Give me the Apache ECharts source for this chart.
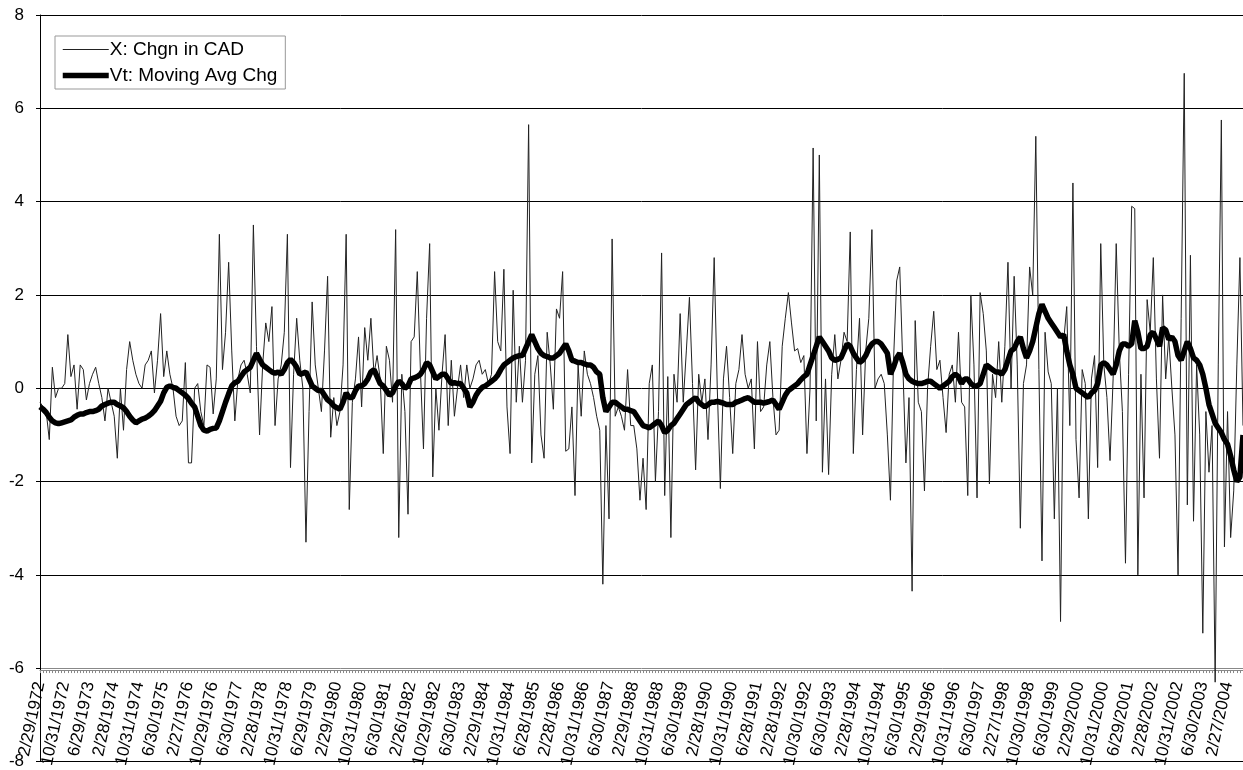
<!DOCTYPE html>
<html>
<head>
<meta charset="utf-8">
<title>CAD change vs moving average</title>
<script src="https://cdn.jsdelivr.net/npm/echarts@6/dist/echarts.min.js"></script>
<style>
    html, body { margin: 0; padding: 0; background: #fff; }
    #main { width: 1243px; height: 770px; }
</style>
</head>
<body>
<div id="main"></div>
<script>
// tick labels shown every 8 months on the x axis (month-end dates)
var tickLabels = [
    '2/29/1972', '10/31/1972', '6/29/1973', '2/28/1974', '10/31/1974', '6/30/1975', '2/27/1976',
    '10/29/1976', '6/30/1977', '2/28/1978', '10/31/1978', '6/29/1979', '2/29/1980', '10/31/1980',
    '6/30/1981', '2/26/1982', '10/29/1982', '6/30/1983', '2/29/1984', '10/31/1984', '6/28/1985',
    '2/28/1986', '10/31/1986', '6/30/1987', '2/29/1988', '10/31/1988', '6/30/1989', '2/28/1990',
    '10/31/1990', '6/28/1991', '2/28/1992', '10/30/1992', '6/30/1993', '2/28/1994', '10/31/1994',
    '6/30/1995', '2/29/1996', '10/31/1996', '6/30/1997', '2/27/1998', '10/30/1998', '6/30/1999',
    '2/29/2000', '10/31/2000', '6/29/2001', '2/28/2002', '10/31/2002', '6/30/2003', '2/27/2004'
];

// X: monthly change in CAD (one value per month, from 2/1972)
var chgCAD = [
    -0.3, -0.4, -0.5, -1.1, 0.45, -0.2, 0.0, 0.0, 0.1, 1.15,
    0.25, 0.5, -0.45, 0.5, 0.4, -0.25, 0.1, 0.3, 0.45, 0.1,
    -0.2, -0.7, 0.0, -0.3, -0.6, -1.5, 0.0, -0.9, 0.4, 1.0,
    0.6, 0.3, 0.1, 0.0, 0.5, 0.6, 0.8, -0.1, 0.6, 1.6,
    0.25, 0.8, 0.3, 0.0, -0.6, -0.8, -0.7, 0.55, -1.6, -1.6,
    0.0, 0.1, -0.5, -0.8, 0.5, 0.45, -0.55, 0.2, 3.3, 0.4,
    1.2, 2.7, 0.8, -0.7, 0.2, 0.5, 0.6, 0.3, -0.1, 3.5,
    0.9, -1.0, 0.5, 1.4, 1.0, 1.75, -0.8, 0.2, 0.5, 1.2,
    3.3, -1.7, 0.3, 1.5, 0.6, 0.0, -3.3, -0.5, 1.85, 0.5,
    0.0, -0.5, 0.8, 2.4, -1.05, -0.2, -0.8, -0.5, 0.5, 3.3,
    -2.6, -0.3, 0.2, 1.1, -0.4, 1.3, 0.6, 1.5, 0.3, 0.7,
    0.2, -1.4, 0.9, 0.6, -0.3, 3.4, -3.2, 0.3, -0.5, -2.7,
    1.0, 1.1, 2.5, 0.4, -1.3, 1.5, 3.1, -1.9, 0.0, -0.9,
    0.3, 1.15, -0.8, 0.6, -0.6, 0.0, 0.5, -0.2, 0.5, 0.0,
    0.2, 0.5, 0.6, 0.3, 0.4, 0.1, 0.3, 2.5, 1.0, 0.8,
    2.55, -0.4, -1.4, 2.1, -0.3, 0.9, -0.3, 0.6, 5.65, -1.6,
    0.3, 0.7, -1.0, -1.5, 1.2, 0.5, -0.45, 1.7, 1.5, 2.5,
    -1.35, -1.3, -0.4, -2.3, 0.5, -0.6, 0.8, 0.3, 0.1, -0.2,
    -0.6, -0.9, -4.2, -0.8, -2.8, 3.2, -0.6, -0.4, -0.6, -0.9,
    0.4, -0.8, -0.8, -1.3, -2.4, -1.5, -2.6, 0.1, 0.5, -2.0,
    -0.5, 2.9, -2.3, 0.25, -3.2, 0.3, -0.3, 1.6, -0.3, 0.8,
    1.95, 0.1, -1.75, 0.3, -0.3, 0.2, -1.1, 0.5, 2.8, 0.0,
    -2.15, 0.2, 0.9, -0.2, -1.4, 0.1, 0.4, 1.15, 0.3, 0.0,
    0.2, -1.3, 1.0, -0.5, -0.4, 0.5, 1.0, -0.2, -1.0, -0.9,
    0.9, 1.5, 2.05, 1.4, 0.8, 0.85, 0.55, 0.7, -1.4, 0.0,
    5.15, -0.7, 5.0, -1.8, 0.2, -1.85, 0.3, 1.15, 0.2, 0.6,
    1.2, 1.0, 3.35, -1.4, 0.4, 1.5, -1.0, 0.8, 1.5, 3.4,
    0.0, 0.2, 0.3, 0.1, -1.0, -2.4, 0.6, 2.3, 2.6, 0.5,
    -1.6, -0.2, -4.35, 1.45, -0.3, -0.5, -2.2, 0.0, 0.9, 1.65,
    0.4, 0.6, -0.2, -0.95, 0.3, 0.5, -0.3, 1.2, -0.3, -0.4,
    -2.3, 2.0, 0.5, -2.35, 2.05, 1.6, 0.8, -2.05, 0.3, -0.2,
    1.0, -0.3, 0.9, 2.7, 0.0, 2.4, 0.5, -3.0, 0.1, 0.5,
    2.6, 2.0, 5.4, 0.4, -3.7, 1.2, 0.35, 0.1, -2.8, 0.0,
    -5.0, 1.0, 1.75, -0.8, 4.4, -1.1, -2.35, 0.4, 0.1, -2.8,
    0.2, 0.7, -1.7, 3.1, 0.5, -0.2, -1.55, 0.2, 3.1, 0.8,
    -0.5, -3.75, 0.3, 3.9, 3.85, -4.0, 0.3, -2.35, 1.9, 1.2,
    2.8, 0.2, -1.5, 2.0, 0.2, 1.1, 0.0, -1.0, -4.0, 1.5,
    6.75, -2.5, 2.85, -2.85, 0.5, -1.0, -5.25, -0.5, -1.8, -0.8,
    -6.3, 0.5, 5.75, -3.4, -0.5, -3.2, -2.2, 0.5, 2.8, -0.8
];

// Vt: moving average of the change
var movAvg = [
    -0.40, -0.45, -0.52, -0.62, -0.70, -0.74, -0.76, -0.74, -0.72, -0.70,
    -0.68, -0.62, -0.58, -0.55, -0.55, -0.52, -0.50, -0.50, -0.48, -0.45,
    -0.38, -0.35, -0.32, -0.30, -0.30, -0.35, -0.38, -0.42, -0.50, -0.60,
    -0.68, -0.74, -0.70, -0.66, -0.64, -0.60, -0.55, -0.48, -0.38, -0.28,
    -0.10, 0.02, 0.05, 0.02, 0.00, -0.05, -0.10, -0.15, -0.22, -0.32,
    -0.40, -0.60, -0.80, -0.90, -0.92, -0.88, -0.86, -0.85, -0.70, -0.50,
    -0.30, -0.12, 0.05, 0.12, 0.15, 0.25, 0.35, 0.40, 0.45, 0.60,
    0.75, 0.62, 0.50, 0.45, 0.40, 0.35, 0.32, 0.35, 0.30, 0.40,
    0.55, 0.62, 0.55, 0.45, 0.30, 0.32, 0.35, 0.20, 0.05, 0.00,
    -0.05, -0.05, -0.15, -0.25, -0.30, -0.38, -0.42, -0.45, -0.30, -0.10,
    -0.20, -0.20, -0.05, 0.05, 0.05, 0.10, 0.20, 0.35, 0.40, 0.25,
    0.10, 0.05, -0.05, -0.15, -0.10, 0.05, 0.15, 0.10, 0.00, 0.05,
    0.20, 0.22, 0.25, 0.30, 0.40, 0.55, 0.50, 0.35, 0.20, 0.25,
    0.30, 0.30, 0.20, 0.10, 0.12, 0.10, 0.10, 0.00, -0.10, -0.40,
    -0.30, -0.15, -0.05, 0.02, 0.05, 0.10, 0.15, 0.20, 0.28, 0.40,
    0.50, 0.55, 0.60, 0.65, 0.68, 0.70, 0.70, 0.85, 1.00, 1.15,
    1.00, 0.85, 0.75, 0.70, 0.68, 0.65, 0.65, 0.70, 0.75, 0.85,
    0.95, 0.80, 0.60, 0.58, 0.55, 0.55, 0.52, 0.50, 0.50, 0.45,
    0.35, 0.30, -0.20, -0.50, -0.40, -0.30, -0.30, -0.35, -0.40, -0.45,
    -0.45, -0.48, -0.50, -0.60, -0.70, -0.80, -0.82, -0.85, -0.80, -0.75,
    -0.70, -0.80, -0.95, -0.90, -0.80, -0.75, -0.65, -0.55, -0.45, -0.35,
    -0.30, -0.25, -0.20, -0.30, -0.35, -0.40, -0.35, -0.30, -0.30, -0.28,
    -0.30, -0.32, -0.35, -0.35, -0.35, -0.30, -0.28, -0.25, -0.22, -0.20,
    -0.25, -0.30, -0.30, -0.30, -0.32, -0.30, -0.28, -0.25, -0.35, -0.45,
    -0.30, -0.15, -0.05, 0.00, 0.05, 0.10, 0.18, 0.25, 0.30, 0.50,
    0.70, 0.90, 1.10, 1.00, 0.90, 0.80, 0.65, 0.60, 0.62, 0.65,
    0.80, 0.95, 0.90, 0.75, 0.65, 0.55, 0.60, 0.70, 0.85, 0.95,
    1.00, 1.00, 0.95, 0.85, 0.75, 0.30, 0.45, 0.65, 0.75, 0.55,
    0.30, 0.20, 0.15, 0.12, 0.10, 0.10, 0.12, 0.15, 0.15, 0.10,
    0.05, 0.00, 0.05, 0.10, 0.15, 0.25, 0.30, 0.25, 0.10, 0.20,
    0.20, 0.10, 0.05, 0.05, 0.10, 0.30, 0.50, 0.45, 0.40, 0.35,
    0.35, 0.30, 0.40, 0.60, 0.80, 0.85, 1.00, 1.10, 0.85, 0.65,
    0.80, 1.00, 1.30, 1.60, 1.80, 1.65, 1.50, 1.40, 1.30, 1.20,
    1.10, 1.15, 0.80, 0.50, 0.30, 0.00, -0.05, -0.10, -0.15, -0.20,
    -0.10, -0.05, 0.10, 0.50, 0.55, 0.50, 0.40, 0.30, 0.50, 0.80,
    0.95, 0.95, 0.90, 0.95, 1.45, 1.20, 0.85, 0.85, 0.90, 1.15,
    1.20, 1.05, 0.90, 1.30, 1.25, 1.05, 1.10, 1.00, 0.70, 0.60,
    0.80, 1.00, 0.85, 0.65, 0.60, 0.50, 0.30, 0.00, -0.35, -0.55,
    -0.75, -0.85, -0.95, -1.10, -1.20, -1.45, -1.75, -2.00, -1.90, -1.00
];

// y axis ticks
var yMin = -8, yMax = 8, yStep = 2;

// one category per month
var months = [];
for (var i = 0; i < chgCAD.length; i++) {
    months.push(String(i));
}

var chart = echarts.init(document.getElementById('main'));

var option = {
    backgroundColor: '#fff',
    animation: false,
    textStyle: { fontFamily: 'Liberation Sans, Arial, sans-serif' },
    legend: {
        orient: 'vertical',
        left: 55,
        top: 36,
        padding: [4, 8, 4, 5],
        itemWidth: 46,
        itemHeight: 16,
        itemGap: 7,
        backgroundColor: '#fff',
        borderColor: '#999',
        borderWidth: 1,
        // hide the marker dot, keep only the line
        itemStyle: { opacity: 0 },
        textStyle: { color: '#000', fontSize: 19, padding: [0, 0, 0, -4] },
        data: [
            { name: 'X: Chgn in CAD', lineStyle: { width: 1.2, color: '#222' } },
            { name: 'Vt: Moving Avg Chg', lineStyle: { width: 5.5, color: '#000' } }
        ]
    },
    grid: [
        // plot area, -8 .. 8
        { left: 40, right: 0, top: 15, bottom: 3 },
        // helper grid whose bottom sits on -6, carries the date axis
        { left: 40, right: 0, top: 15, bottom: 97 }
    ],
    xAxis: [
        {
            type: 'category',
            gridIndex: 0,
            data: months,
            boundaryGap: false,
            axisLine: { show: false },
            axisTick: { show: false },
            axisLabel: { show: false },
            splitLine: { show: false }
        },
        {
            type: 'category',
            gridIndex: 1,
            data: months,
            boundaryGap: false,
            position: 'bottom',
            axisLine: { show: true, onZero: false, lineStyle: { color: '#888', width: 1 } },
            axisTick: { show: true, interval: 0, length: 3, lineStyle: { color: '#888' } },
            axisLabel: {
                interval: 7,
                rotate: 78,
                margin: 12,
                color: '#000',
                fontSize: 17,
                formatter: function (val, idx) {
                    return tickLabels[Math.round(idx / 8)] || '';
                }
            },
            splitLine: { show: false }
        }
    ],
    yAxis: [
        {
            type: 'value',
            gridIndex: 0,
            min: yMin,
            max: yMax,
            interval: yStep,
            axisLine: { show: true, lineStyle: { color: '#000', width: 1 } },
            axisTick: { show: true, length: 4, lineStyle: { color: '#000' } },
            axisLabel: { color: '#000', fontSize: 17, margin: 16 },
            splitLine: {
                show: true,
                lineStyle: {
                    color: ['#000', '#888', '#000', '#000', '#000', '#000', '#000', '#000', '#000'],
                    width: 1
                }
            }
        },
        {
            type: 'value',
            gridIndex: 1,
            min: -6,
            max: 8,
            show: false
        }
    ],
    series: [
        {
            name: 'X: Chgn in CAD',
            type: 'line',
            xAxisIndex: 0,
            yAxisIndex: 0,
            data: chgCAD,
            symbol: 'none',
            lineStyle: { color: '#222', width: 1 },
            itemStyle: { color: '#222' },
            z: 2
        },
        {
            name: 'Vt: Moving Avg Chg',
            type: 'line',
            xAxisIndex: 0,
            yAxisIndex: 0,
            data: movAvg,
            symbol: 'none',
            lineStyle: { color: '#000', width: 5.5 },
            itemStyle: { color: '#000' },
            z: 3
        }
    ]
};

chart.setOption(option);
</script>
</body>
</html>
